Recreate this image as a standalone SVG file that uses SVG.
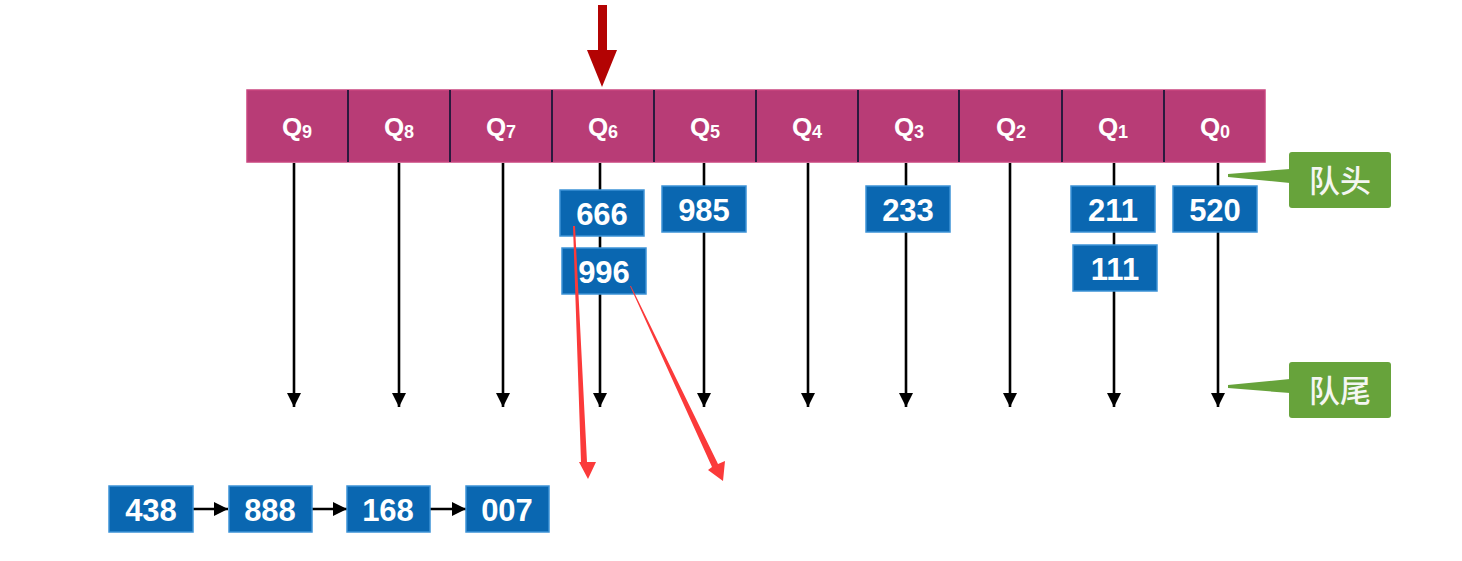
<svg xmlns="http://www.w3.org/2000/svg" width="1462" height="561" viewBox="0 0 1462 561">
<defs>
<marker id="ah" markerUnits="userSpaceOnUse" markerWidth="15" markerHeight="15" refX="14" refY="7" orient="auto">
<path d="M0,0 L14,7 L0,14 z" fill="#000"/>
</marker>
<style>
.cell{fill:#b83c76;stroke:none}
.div{stroke:#2a1a3e;stroke-width:2}
.ql{font-family:"Liberation Sans",Arial,sans-serif;font-weight:bold;font-size:26px;fill:#fff;text-anchor:middle}
.qs{font-size:18px}
.box{fill:#0a67b1;stroke:#3d92d6;stroke-width:1.5}
.num{font-family:"Liberation Sans",Arial,sans-serif;font-weight:bold;font-size:31px;fill:#fff;text-anchor:middle}
.conn{stroke:#000;stroke-width:2.6;fill:none;marker-end:url(#ah)}
.call{fill:#67a33b}
.cj{font-family:"Noto Sans CJK SC","Noto Sans",sans-serif;font-weight:500;font-size:31px;fill:#f4f6f2;text-anchor:middle}
.red{fill:#fb3a3a}
</style>
</defs>
<rect width="1462" height="561" fill="#fff"/>

<g id="pointer">
<rect x="598" y="5" width="9" height="46" fill="#b30303"/>
<polygon points="587,50 617,50 602,87" fill="#b30303"/>
</g>

<g id="connectors">
<line class="conn" x1="294" y1="163" x2="294" y2="407"/>
<line class="conn" x1="399" y1="163" x2="399" y2="407"/>
<line class="conn" x1="503" y1="163" x2="503" y2="407"/>
<line class="conn" x1="600" y1="163" x2="600" y2="407"/>
<line class="conn" x1="704" y1="163" x2="704" y2="407"/>
<line class="conn" x1="808" y1="163" x2="808" y2="407"/>
<line class="conn" x1="906" y1="163" x2="906" y2="407"/>
<line class="conn" x1="1010" y1="163" x2="1010" y2="407"/>
<line class="conn" x1="1114" y1="163" x2="1114" y2="407"/>
<line class="conn" x1="1218" y1="163" x2="1218" y2="407"/>
<line class="conn" x1="193" y1="509" x2="228" y2="509"/>
<line class="conn" x1="312" y1="509" x2="347" y2="509"/>
<line class="conn" x1="430" y1="509" x2="466" y2="509"/>
</g>

<g id="queue">
<g id="q9"><rect class="cell" x="247" y="90" width="101" height="72"/><text class="ql" x="297" y="136">Q<tspan class="qs" dy="2">9</tspan></text></g>
<g id="q8"><rect class="cell" x="348" y="90" width="102" height="72"/><text class="ql" x="399" y="136">Q<tspan class="qs" dy="2">8</tspan></text></g>
<g id="q7"><rect class="cell" x="450" y="90" width="102" height="72"/><text class="ql" x="501" y="136">Q<tspan class="qs" dy="2">7</tspan></text></g>
<g id="q6"><rect class="cell" x="552" y="90" width="102" height="72"/><text class="ql" x="603" y="136">Q<tspan class="qs" dy="2">6</tspan></text></g>
<g id="q5"><rect class="cell" x="654" y="90" width="102" height="72"/><text class="ql" x="705" y="136">Q<tspan class="qs" dy="2">5</tspan></text></g>
<g id="q4"><rect class="cell" x="756" y="90" width="102" height="72"/><text class="ql" x="807" y="136">Q<tspan class="qs" dy="2">4</tspan></text></g>
<g id="q3"><rect class="cell" x="858" y="90" width="101" height="72"/><text class="ql" x="909" y="136">Q<tspan class="qs" dy="2">3</tspan></text></g>
<g id="q2"><rect class="cell" x="959" y="90" width="103" height="72"/><text class="ql" x="1011" y="136">Q<tspan class="qs" dy="2">2</tspan></text></g>
<g id="q1"><rect class="cell" x="1062" y="90" width="102" height="72"/><text class="ql" x="1113" y="136">Q<tspan class="qs" dy="2">1</tspan></text></g>
<g id="q0"><rect class="cell" x="1164" y="90" width="101" height="72"/><text class="ql" x="1215" y="136">Q<tspan class="qs" dy="2">0</tspan></text></g>
<rect x="247" y="90" width="1018" height="72" fill="none" stroke="#c9457f" stroke-width="1.5"/>
<line class="div" x1="348" y1="90" x2="348" y2="162"/>
<line class="div" x1="450" y1="90" x2="450" y2="162"/>
<line class="div" x1="552" y1="90" x2="552" y2="162"/>
<line class="div" x1="654" y1="90" x2="654" y2="162"/>
<line class="div" x1="756" y1="90" x2="756" y2="162"/>
<line class="div" x1="858" y1="90" x2="858" y2="162"/>
<line class="div" x1="959" y1="90" x2="959" y2="162"/>
<line class="div" x1="1062" y1="90" x2="1062" y2="162"/>
<line class="div" x1="1164" y1="90" x2="1164" y2="162"/>
</g>

<g id="n666"><rect class="box" x="560" y="190" width="84" height="46"/><text class="num" x="602" y="225">666</text></g>
<g id="n996"><rect class="box" x="562" y="248" width="84" height="46"/><text class="num" x="604" y="283">996</text></g>
<g id="n985"><rect class="box" x="662" y="186" width="84" height="46"/><text class="num" x="704" y="221">985</text></g>
<g id="n233"><rect class="box" x="866" y="186" width="84" height="46"/><text class="num" x="908" y="221">233</text></g>
<g id="n211"><rect class="box" x="1071" y="186" width="84" height="46"/><text class="num" x="1113" y="221">211</text></g>
<g id="n111"><rect class="box" x="1073" y="245" width="84" height="46"/><text class="num" x="1115" y="280">111</text></g>
<g id="n520"><rect class="box" x="1173" y="186" width="84" height="46"/><text class="num" x="1215" y="221">520</text></g>

<g id="n438"><rect class="box" x="109" y="486" width="84" height="46"/><text class="num" x="151" y="521">438</text></g>
<g id="n888"><rect class="box" x="229" y="486" width="83" height="46"/><text class="num" x="270" y="521">888</text></g>
<g id="n168"><rect class="box" x="347" y="486" width="83" height="46"/><text class="num" x="388" y="521">168</text></g>
<g id="n007"><rect class="box" x="466" y="486" width="83" height="46"/><text class="num" x="507" y="521">007</text></g>

<g id="head">
<rect class="call" x="1289" y="152" width="102" height="56" rx="3"/>
<polygon class="call" points="1290,169 1228,174 1228,177 1290,183"/>
<text class="cj" x="1340" y="192">队头</text>
</g>
<g id="tail">
<rect class="call" x="1289" y="362" width="102" height="56" rx="3"/>
<polygon class="call" points="1290,379 1228,385 1228,388 1290,393"/>
<text class="cj" x="1340" y="402">队尾</text>
</g>

<g id="red-arrows">
<polygon class="red" points="573,226 575,226 587,462 596,462 588,479 579,462 581,462"/>
<polygon class="red" points="630,286 631,286 718,464 725,461 723,481 708,470 712,467"/>
</g>
</svg>
